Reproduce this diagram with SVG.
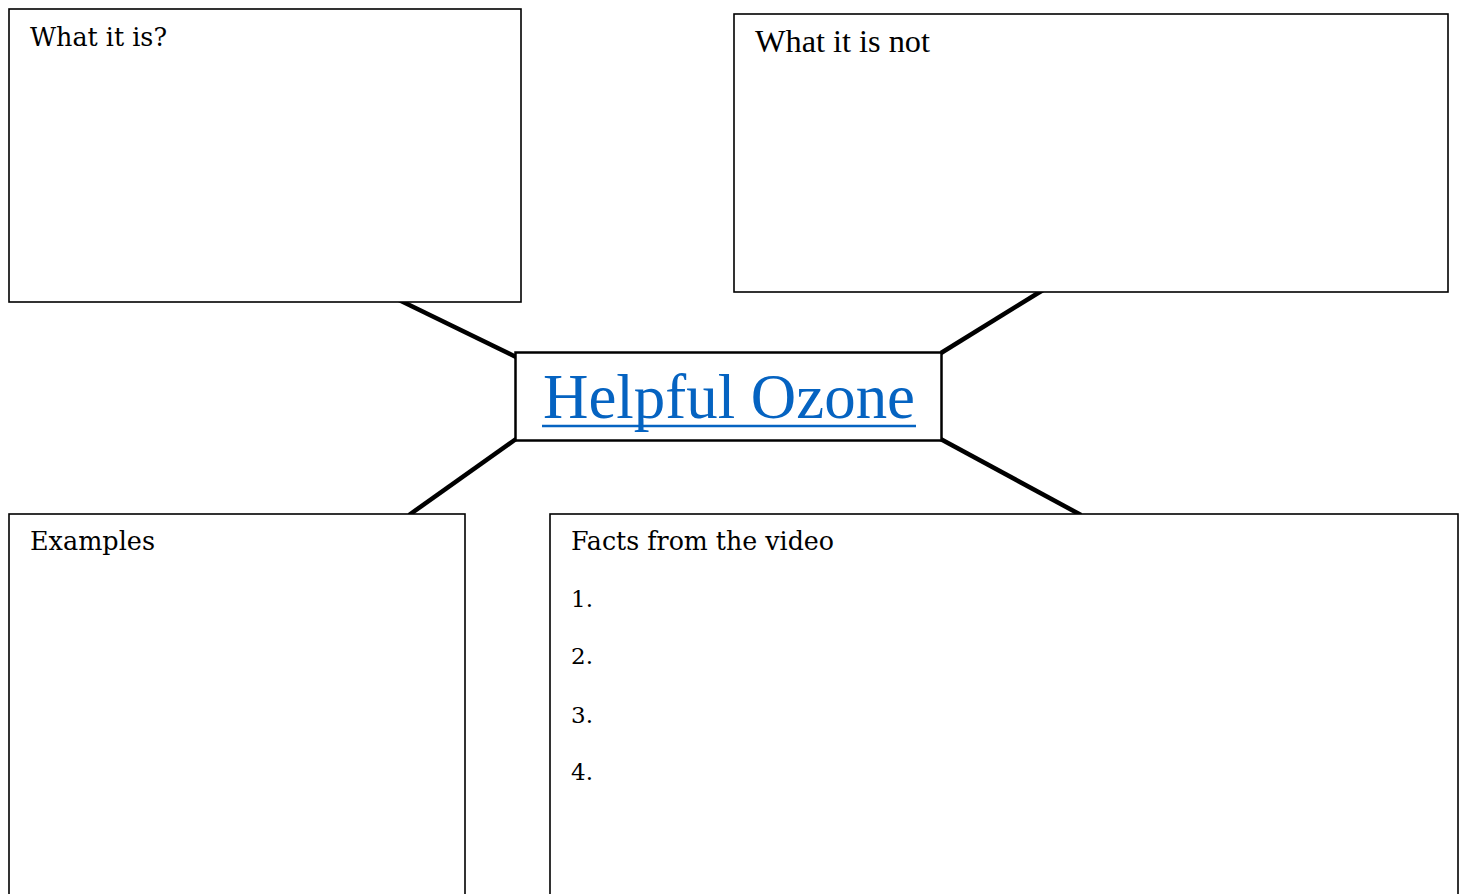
<svg xmlns="http://www.w3.org/2000/svg" width="1483" height="894" viewBox="0 0 1483 894">
<style>
.box{fill:#fff;stroke:#000;stroke-width:1.6}
.lbl{font-family:"DejaVu Serif","Liberation Serif",serif;font-size:26.5px;fill:#000}
.num{font-family:"DejaVu Serif","Liberation Serif",serif;font-size:23px;fill:#000}
.conn{stroke:#000;stroke-width:4.5;fill:none}
</style>
<rect width="1483" height="894" fill="#fff"/>
<g id="connectors">
<line class="conn" x1="399" y1="300" x2="516" y2="357"/>
<line class="conn" x1="1043" y1="290" x2="941" y2="353"/>
<line class="conn" x1="516" y1="439" x2="409" y2="515"/>
<line class="conn" x1="935" y1="436" x2="1081" y2="515"/>
</g>
<g id="what-it-is">
<rect class="box" x="9" y="9" width="512" height="293"/>
<text class="lbl" x="30" y="46" textLength="137" lengthAdjust="spacingAndGlyphs">What it is?</text>
</g>
<g id="what-it-is-not">
<rect class="box" x="734" y="14" width="714" height="278"/>
<text x="755" y="52" font-family="Liberation Serif, serif" font-size="31" textLength="175" lengthAdjust="spacingAndGlyphs">What it is not</text>
</g>
<g id="center">
<rect x="515.5" y="352.5" width="426" height="88" fill="#fff" stroke="#000" stroke-width="2.5"/>
<text x="543" y="418" font-family="Liberation Serif, serif" font-size="63" fill="#0563C1" textLength="372" lengthAdjust="spacingAndGlyphs">Helpful Ozone</text>
<line x1="542" y1="426" x2="916" y2="426" stroke="#0563C1" stroke-width="2.5"/>
</g>
<g id="examples">
<rect class="box" x="9" y="514" width="456" height="400"/>
<text class="lbl" x="30" y="550" textLength="125" lengthAdjust="spacingAndGlyphs">Examples</text>
</g>
<g id="facts">
<rect class="box" x="550" y="514" width="908" height="400"/>
<text class="lbl" x="571" y="550" textLength="263" lengthAdjust="spacingAndGlyphs">Facts from the video</text>
<text class="num" x="571" y="607">1.</text>
<text class="num" x="571" y="664">2.</text>
<text class="num" x="571" y="723">3.</text>
<text class="num" x="571" y="780">4.</text>
</g>
</svg>
